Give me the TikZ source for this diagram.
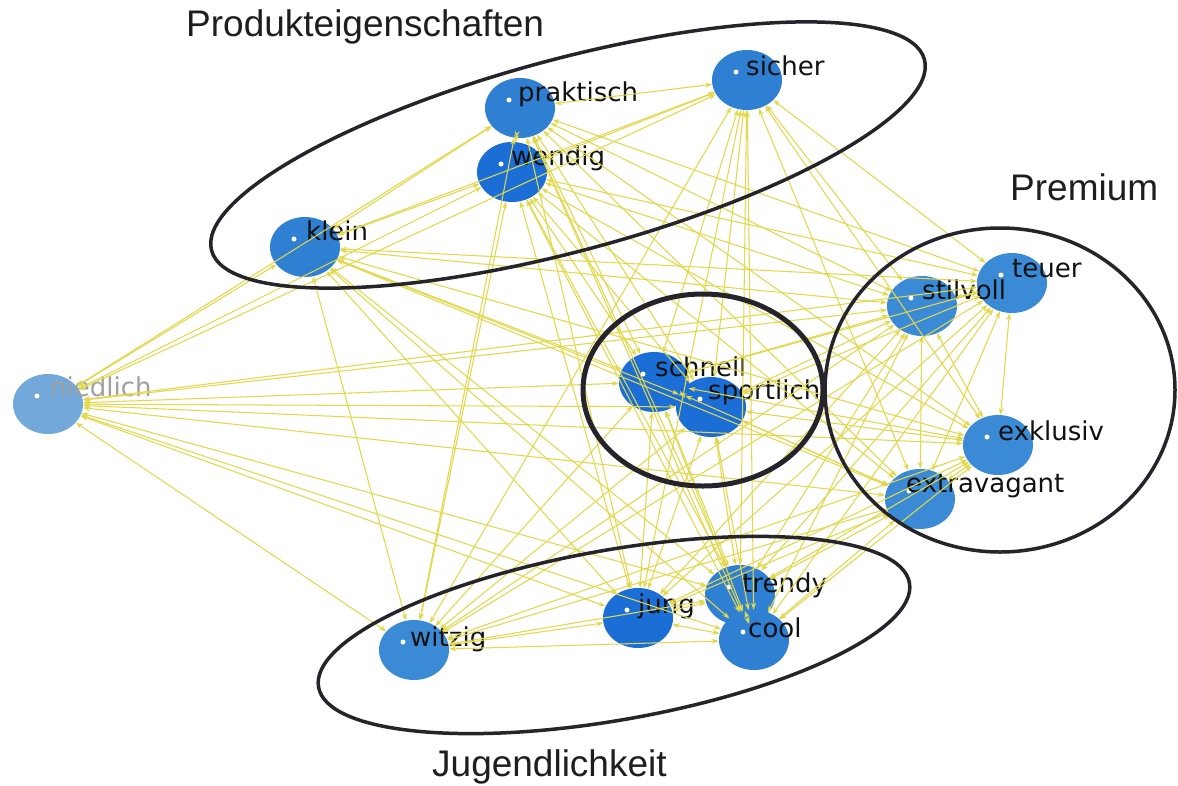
\documentclass[tikz,border=0pt]{standalone}
\usepackage{fontspec}
\setmainfont{Liberation Sans}
\newfontfamily\labfont{DejaVu Sans}
\usetikzlibrary{arrows.meta,shapes.geometric}
\definecolor{edgey}{HTML}{E2D84C}
\definecolor{ringk}{HTML}{24242A}
\definecolor{labk}{HTML}{111111}
\definecolor{titk}{HTML}{1E1E1E}
\definecolor{bmid}{HTML}{2F7FD2}
\definecolor{bdark}{HTML}{1A6ED6}
\definecolor{blight}{HTML}{3A8AD5}
\definecolor{bpale}{HTML}{72A8DA}
\begin{document}
\begin{tikzpicture}[x=1pt,y=-1pt,
  kw/.style={ellipse, minimum width=70pt, minimum height=60pt, inner sep=0pt, fill=bmid},
  dotw/.style={circle, fill=white, minimum size=5pt, inner sep=0pt},
  lab/.style={anchor=base west, inner sep=0pt, font=\labfont\fontsize{26}{26}\selectfont, text=labk},
  conn/.style={draw=edgey, line width=1.05pt, {Stealth[length=7pt,width=5pt]}-{Stealth[length=7pt,width=5pt]}},
  grp/.style={draw=ringk, line width=3.5pt, ellipse, inner sep=0pt},
  grptitle/.style={anchor=base west, inner sep=0pt, font=\fontsize{37}{37}\selectfont, text=titk}]
\useasboundingbox[fill=white] (0,0) rectangle (1178,785);

% keyword circles
\node[kw] (praktisch) at (520,108) {};
\node[kw] (sicher) at (747,80) {};
\node[kw, fill=bdark] (wendig) at (512,172) {};
\node[kw] (klein) at (305,247) {};
\node[kw, fill=bpale] (niedlich) at (48,404) {};
\node[kw, fill=bdark] (schnell) at (654,382) {};
\node[kw, fill=bdark] (sportlich) at (711,407) {};
\node[kw, fill=blight] (stilvoll) at (922,306) {};
\node[kw, fill=blight] (teuer) at (1012,283) {};
\node[kw, fill=blight] (exklusiv) at (998,445) {};
\node[kw, fill=blight] (extravagant) at (920,499) {};
\node[kw, fill=bdark] (jung) at (638,618) {};
\node[kw] (trendy) at (740,595) {};
\node[kw] (cool) at (754,640) {};
\node[kw, fill=blight] (witzig) at (414,650) {};

% white dots
\foreach \n in {praktisch,sicher,wendig,klein,niedlich,schnell,sportlich,stilvoll,teuer,exklusiv,extravagant,jung,trendy,cool,witzig}
  \node[dotw] (\n-d) at ([xshift=-11pt,yshift=8pt]\n.center) {};

% labels
\node[lab] (praktisch-l) at (518,101) {praktisch};
\node[lab] (sicher-l) at (746,75) {sicher};
\node[lab] (wendig-l) at (511,165) {wendig};
\node[lab] (klein-l) at (306,240) {klein};
\node[lab, text=gray!75] (niedlich-l) at (50,396) {niedlich};
\node[lab] (schnell-l) at (655,376) {schnell};
\node[lab] (sportlich-l) at (708,399) {sportlich};
\node[lab] (stilvoll-l) at (922,299) {stilvoll};
\node[lab] (teuer-l) at (1012,277) {teuer};
\node[lab] (exklusiv-l) at (998,440) {exklusiv};
\node[lab] (extravagant-l) at (906,492) {extravagant};
\node[lab] (jung-l) at (638,613) {jung};
\node[lab] (trendy-l) at (742,592) {trendy};
\node[lab] (cool-l) at (748,637) {cool};
\node[lab] (witzig-l) at (410,646) {witzig};

% connectors
\foreach \a [count=\i] in {praktisch,sicher,wendig,klein,niedlich,schnell,sportlich,stilvoll,teuer,exklusiv,extravagant,jung,trendy,cool,witzig}{
  \foreach \b [count=\j] in {praktisch,sicher,wendig,klein,niedlich,schnell,sportlich,stilvoll,teuer,exklusiv,extravagant,jung,trendy,cool,witzig}{
    \ifnum\j>\i \draw[conn] (\a) -- (\b);\fi
  }
}

% group rings
\node[grp, minimum width=738pt, minimum height=192pt, rotate=15] (ringP) at (568,155) {};
\node[grp, minimum width=350pt, minimum height=324pt] (ringR) at (1000,390) {};
\node[grp, line width=5pt, minimum width=240pt, minimum height=192pt] (ringS) at (703,390) {};
\node[grp, minimum width=600pt, minimum height=170pt, rotate=10] (ringJ) at (614,635) {};

% group titles
\node[grptitle] (tP) at (186,36) {Produkteigenschaften};
\node[grptitle] (tR) at (1010,200) {Premium};
\node[grptitle] (tJ) at (432,776) {Jugendlichkeit};
\end{tikzpicture}
\end{document}
